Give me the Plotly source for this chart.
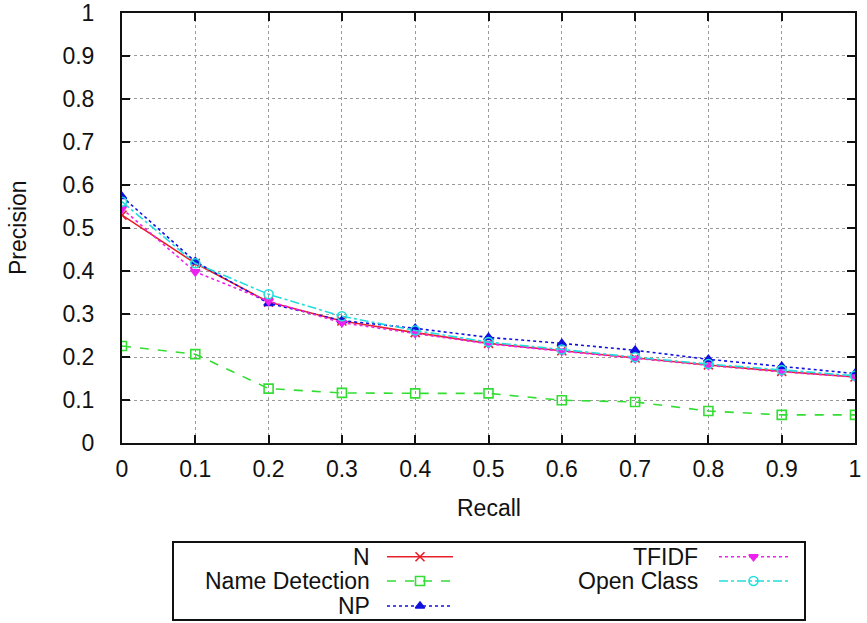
import plotly.graph_objects as go

recall = [0, 0.1, 0.2, 0.3, 0.4, 0.5, 0.6, 0.7, 0.8, 0.9, 1.0]
tick_vals = [0, 0.1, 0.2, 0.3, 0.4, 0.5, 0.6, 0.7, 0.8, 0.9, 1.0]
tick_text = ["0", "0.1", "0.2", "0.3", "0.4", "0.5", "0.6", "0.7", "0.8", "0.9", "1"]

n_vals = [0.530, 0.418, 0.328, 0.284, 0.257, 0.232, 0.215, 0.198, 0.182, 0.167, 0.154]
name_det = [0.226, 0.207, 0.127, 0.117, 0.116, 0.116, 0.100, 0.096, 0.075, 0.066, 0.066]
np_vals = [0.573, 0.422, 0.325, 0.285, 0.267, 0.246, 0.232, 0.216, 0.195, 0.179, 0.162]
tfidf = [0.545, 0.398, 0.330, 0.280, 0.255, 0.231, 0.214, 0.197, 0.181, 0.166, 0.154]
open_class = [0.561, 0.418, 0.346, 0.295, 0.262, 0.235, 0.218, 0.200, 0.184, 0.170, 0.157]

series = [
    ("N", n_vals, "#e8202a", "solid", "x-thin-open", 9),
    ("Name Detection", name_det, "#33dd33", "dash", "square-open", 9),
    ("NP", np_vals, "#1010e0", "dot", "triangle-up", 8),
    ("TFIDF", tfidf, "#ee22ee", "dot", "triangle-down", 8),
    ("Open Class", open_class, "#22dddd", "dashdot", "circle-open", 9),
]

W, H = 867, 623
FONT = "Liberation Sans, Arial, Helvetica, sans-serif"
FS = 23

fig = go.Figure()
for name, vals, color, dash, sym, ms in series:
    fig.add_trace(go.Scatter(
        x=recall, y=vals, mode="lines+markers", name=name,
        line=dict(color=color, width=1.6, dash=dash),
        marker=dict(symbol=sym, size=ms, color=color,
                    line=dict(color=color, width=1.6)),
        showlegend=False, xaxis="x", yaxis="y"))

# manual legend (gnuplot style: text right-aligned, sample on the right)
leg_rows = [
    (0, 556.7), (1, 581.0), (2, 606.0),
    (3, 556.7), (4, 581.0),
]
col_geom = {0: (371.7, 387, 453), 1: (700, 719, 788)}
annotations = []
for idx, py in leg_rows:
    name, vals, color, dash, sym, ms = series[idx]
    col = 0 if idx < 3 else 1
    tx, lx0, lx1 = col_geom[col]
    fig.add_trace(go.Scatter(
        x=[lx0, lx1], y=[py, py], mode="lines",
        line=dict(color=color, width=1.6, dash=dash),
        showlegend=False, hoverinfo="skip", xaxis="x2", yaxis="y2"))
    fig.add_trace(go.Scatter(
        x=[(lx0 + lx1) / 2], y=[py], mode="markers",
        marker=dict(symbol=sym, size=ms, color=color,
                    line=dict(color=color, width=1.6)),
        showlegend=False, hoverinfo="skip", xaxis="x2", yaxis="y2"))
    annotations.append(dict(
        x=tx / W, y=1 - py / H, xref="paper", yref="paper",
        text=name, showarrow=False, xanchor="right", yanchor="middle",
        font=dict(family=FONT, size=FS, color="#111")))

annotations.append(dict(x=489 / W, y=1 - 508 / H, xref="paper", yref="paper",
                        text="Recall", showarrow=False, xanchor="center",
                        yanchor="middle", font=dict(family=FONT, size=FS, color="#111")))
annotations.append(dict(x=18 / W, y=1 - 228 / H, xref="paper", yref="paper",
                        text="Precision", showarrow=False, textangle=-90,
                        xanchor="center", yanchor="middle",
                        font=dict(family=FONT, size=FS, color="#111")))

axis_common = dict(
    range=[0, 1], tickvals=tick_vals, ticktext=tick_text,
    ticks="inside", ticklen=8, tickwidth=2, tickcolor="#111",
    showline=True, linecolor="#111", linewidth=2, mirror="ticks",
    showgrid=True, gridcolor="#9a9a9a", griddash="dot", gridwidth=1,
    zeroline=False, automargin=False, ticklabeloverflow="allow",
    tickfont=dict(family=FONT, size=FS, color="#111"),
)

fig.update_layout(
    width=W, height=H,
    margin=dict(l=0, r=0, t=0, b=0, autoexpand=False),
    paper_bgcolor="white", plot_bgcolor="rgba(0,0,0,0)",
    xaxis=dict(domain=[122 / W, 855 / W], anchor="y", ticklabelstandoff=4,
               **axis_common),
    yaxis=dict(domain=[1 - 443.3 / H, 1 - 12.7 / H], anchor="x",
               ticklabelstandoff=21, **axis_common),
    xaxis2=dict(domain=[0, 1], range=[0, W], visible=False, anchor="y2"),
    yaxis2=dict(domain=[0, 1], range=[H, 0], visible=False, anchor="x2"),
    shapes=[dict(type="rect", xref="paper", yref="paper",
                 x0=173 / W, x1=805 / W, y0=1 - 620 / H, y1=1 - 542 / H,
                 line=dict(color="#111", width=2))],
    annotations=annotations,
)

fig.write_html("out.html", config={"displayModeBar": False},
               post_script="document.body.style.margin='0';document.body.style.padding='0';")
